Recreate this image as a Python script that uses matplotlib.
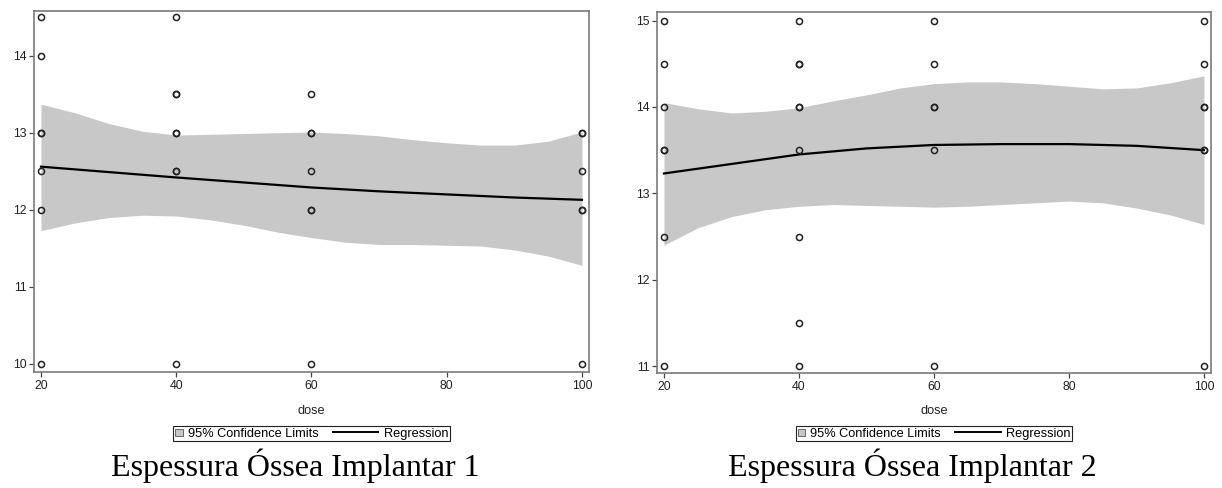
import matplotlib
matplotlib.use("Agg")
import matplotlib.pyplot as plt
import matplotlib.patches as mpatches
from matplotlib.lines import Line2D
from matplotlib.legend_handler import HandlerBase

plt.rcParams['font.family'] = ['Liberation Sans', 'DejaVu Sans']

# observed values (duplicates = overplotted points)
dose1 = [20, 20, 20, 20, 20, 20, 20,
         40, 40, 40, 40, 40, 40, 40, 40,
         60, 60, 60, 60, 60, 60, 60,
         100, 100, 100, 100, 100, 100]
esp1 = [14.5, 14, 13, 13, 12.5, 12, 10,
        14.5, 13.5, 13.5, 13, 13, 12.5, 12.5, 10,
        13.5, 13, 13, 12.5, 12, 12, 10,
        13, 13, 12.5, 12, 12, 10]

dose2 = [20, 20, 20, 20, 20, 20, 20,
         40, 40, 40, 40, 40, 40, 40, 40, 40,
         60, 60, 60, 60, 60, 60,
         100, 100, 100, 100, 100, 100, 100]
esp2 = [15, 14.5, 14, 13.5, 13.5, 12.5, 11,
        15, 14.5, 14.5, 14, 14, 13.5, 12.5, 11.5, 11,
        15, 14.5, 14, 14, 13.5, 11,
        15, 14.5, 14, 14, 13.5, 13.5, 11]

# fitted curve and 95% confidence limits
fit_x = [20, 30, 40, 50, 60, 70, 80, 90, 100]
fit1 = [12.56, 12.49, 12.42, 12.355, 12.29, 12.24, 12.20, 12.16, 12.13]
fit2 = [13.23, 13.34, 13.45, 13.52, 13.56, 13.57, 13.57, 13.55, 13.50]

band_x = [20, 25, 30, 35, 40, 45, 50, 55, 60, 65, 70, 75, 80, 85, 90, 95, 100]
upper1 = [13.37, 13.26, 13.12, 13.02, 12.97, 12.98, 12.99, 13.0, 13.01,
          12.99, 12.96, 12.91, 12.87, 12.84, 12.84, 12.89, 13.01]
lower1 = [11.73, 11.83, 11.90, 11.93, 11.92, 11.87, 11.80, 11.71, 11.64,
          11.58, 11.55, 11.55, 11.54, 11.53, 11.48, 11.40, 11.28]
upper2 = [14.05, 13.98, 13.93, 13.95, 13.99, 14.07, 14.14, 14.22, 14.27,
          14.29, 14.29, 14.27, 14.24, 14.21, 14.22, 14.28, 14.36]
lower2 = [12.40, 12.60, 12.73, 12.81, 12.85, 12.87, 12.86, 12.85, 12.84,
          12.85, 12.87, 12.89, 12.91, 12.89, 12.83, 12.75, 12.64]

titles = ["Espessura Óssea Implantar 1", "Espessura Óssea Implantar 2"]
xticks = [20, 40, 60, 80, 100]
yticks1 = [10, 11, 12, 13, 14]
yticks2 = [11, 12, 13, 14, 15]

band_color = '#c8c8c8'
frame_color = '#7a7a7a'


class SquareHandler(HandlerBase):
    def create_artists(self, legend, orig, xd, yd, width, height, fontsize, trans):
        s = 5.2
        r = mpatches.Rectangle((width - s - xd, (height - s) / 2 - yd), s, s,
                               facecolor=band_color, edgecolor='#555555', lw=0.6,
                               transform=trans)
        return [r]


class LongLineHandler(HandlerBase):
    def create_artists(self, legend, orig, xd, yd, width, height, fontsize, trans):
        y = height / 2 - yd
        ln = Line2D([width - 33 - xd, width - xd], [y, y], color='black', lw=1.4,
                    transform=trans)
        return [ln]


fig = plt.figure(figsize=(12.22, 4.88), dpi=100)
ax1 = fig.add_axes([0.0278, 0.2377, 0.4542, 0.7398])
ax2 = fig.add_axes([0.5376, 0.2357, 0.4534, 0.7398])

panels = [
    (ax1, dose1, esp1, fit1, upper1, lower1, yticks1, (9.896, 14.58), titles[0], 0.2415),
    (ax2, dose2, esp2, fit2, upper2, lower2, yticks2, (10.92, 15.10), titles[1], 0.7465),
]

for ax, xs, ys, fit, up, lo, yt, ylim, title, tx in panels:
    ax.fill_between(band_x, lo, up, color=band_color, lw=0, zorder=1)
    ax.plot(fit_x, fit, color='black', lw=1.6, zorder=2)
    ax.plot(xs, ys, 'o', ms=4.4, mfc='none', mec='#222222', mew=1.1, zorder=3)
    ax.set_xlim(18.96, 101.04)
    ax.set_ylim(*ylim)
    ax.set_xticks(xticks)
    ax.set_yticks(yt)
    ax.tick_params(direction='out', length=3.5, width=0.9, color='#444444',
                   labelsize=8.8, labelcolor='#222222', pad=2)
    for sp in ax.spines.values():
        sp.set_color(frame_color)
        sp.set_linewidth(1.2)

    bb = ax.get_position()
    cx = (bb.x0 + bb.x1) / 2
    fig.text(cx, 0.157, 'dose', ha='center', va='center', fontsize=9.2, color='#222222')
    handles = [mpatches.Patch(facecolor=band_color), Line2D([], [], color='black')]
    leg = ax.legend(handles, ['95% Confidence Limits', 'Regression'],
                    handler_map={mpatches.Patch: SquareHandler(), Line2D: LongLineHandler()},
                    loc='center', bbox_to_anchor=(cx, 0.111), bbox_transform=fig.transFigure,
                    ncol=2, fontsize=9.2, frameon=True, fancybox=False,
                    edgecolor='#222222', framealpha=1, borderpad=0.12,
                    handlelength=0.6, handletextpad=0.4, columnspacing=4.1,
                    borderaxespad=0)
    leg.get_frame().set_linewidth(0.8)
    fig.text(tx, 0.045, title, ha='center', va='center', fontsize=23,
             family=['Liberation Serif', 'DejaVu Serif'], color='black')

fig.savefig('out.png', dpi=100)
